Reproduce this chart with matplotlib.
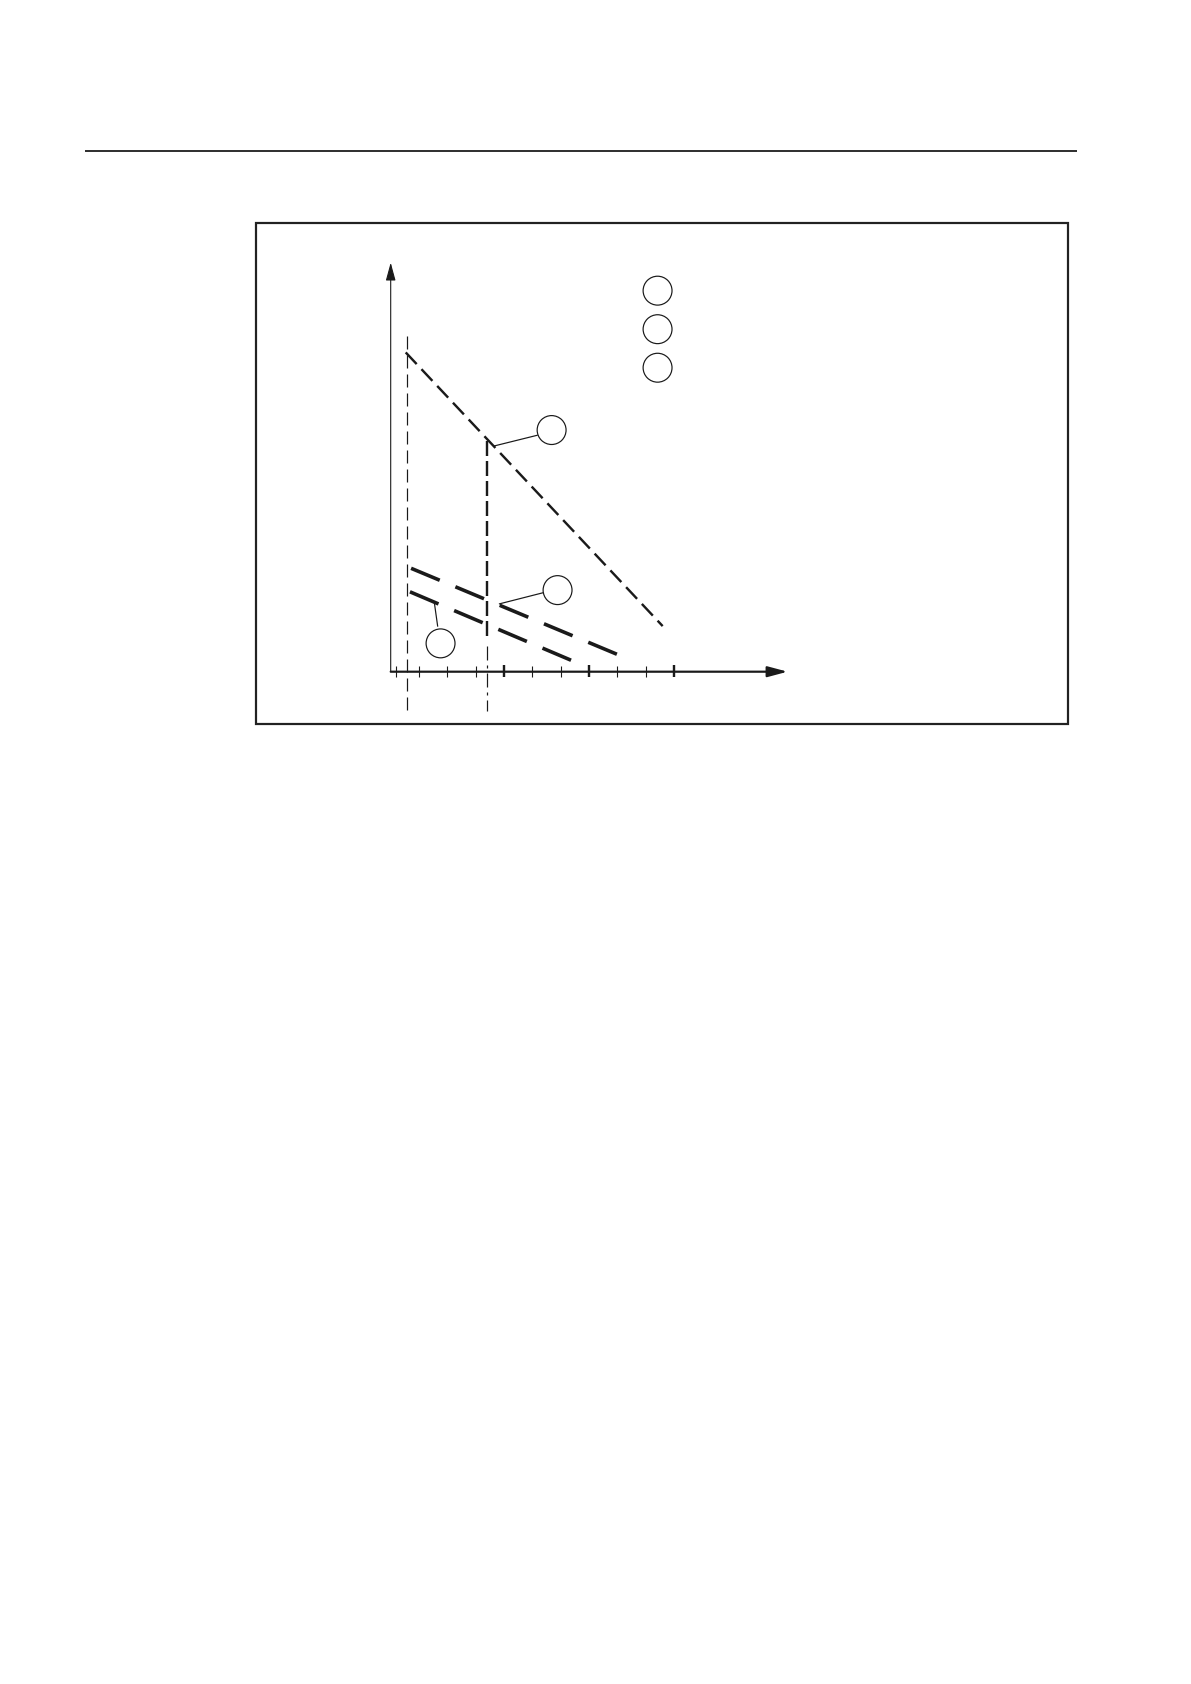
import matplotlib
matplotlib.use('Agg')
import matplotlib.pyplot as plt
from matplotlib.patches import Circle, Rectangle
from matplotlib.lines import Line2D

plt.rcParams['lines.scale_dashes'] = False
plt.rcParams['lines.solid_capstyle'] = 'butt'
plt.rcParams['lines.dash_capstyle'] = 'butt'

# chart values (axis units, origin at the corner of the two axes)
top_line_x = [0.53, 9.60]
top_line_y = [11.27, 1.61]
mid_line_x = [0.72, 8.00]
mid_line_y = [3.65, 0.61]
low_line_x = [0.68, 6.40]
low_line_y = [2.82, 0.39]

left_mark_x = 0.59
left_mark_y = [11.85, -1.39]
right_mark_x = 3.41
right_mark_top = 8.15
right_mark_split = 1.15
right_mark_bottom = -1.39

tick_pos = [0.2, 1, 2, 3, 4, 5, 6, 7, 8, 9, 10]
major_ticks = [4, 7, 10]
x_axis_end = 14.01
y_axis_end = 14.44

# callout bubbles: centre and leader line (from, to)
bubble_x = [5.68, 5.89, 1.76]
bubble_y = [8.53, 2.88, 1.00]
leader_x = [[3.62, 5.19], [3.82, 5.39], [1.54, 1.66]]
leader_y = [[7.96, 8.35], [2.39, 2.79], [2.44, 1.59]]
legend_x = 9.42
legend_y = [13.45, 12.09, 10.73]
bubble_r = 0.51

W, H = 1191, 1684
fig = plt.figure(figsize=(W / 100, H / 100), dpi=100)
ax = fig.add_axes([0, 0, 1, 1])
ax.axis('off')

# pixel layout of the chart origin and unit size
ox, oy, unit = 390.7, 671.7, 28.33
ax.set_xlim(-ox / unit, (W - ox) / unit)
ax.set_ylim((oy - H) / unit, oy / unit)

px = 0.72  # points per pixel at dpi 100
ink = '#1a1a1a'

# page rule and frame
fig.add_artist(Line2D([85 / W, 1076.7 / W], [1 - 151.3 / H, 1 - 151.3 / H],
                      transform=fig.transFigure, color='black', lw=1.6 * px))
fig.add_artist(Rectangle((255.7 / W, 1 - 724 / H), (1068.3 - 255.7) / W, (724 - 222.5) / H,
                         transform=fig.transFigure, fill=False, edgecolor='#222222', lw=2.2 * px))

# axes with arrows
ax.annotate('', xy=(0, y_axis_end), xytext=(0, 0),
            arrowprops=dict(arrowstyle='-|>,head_length=1.1,head_width=0.3', lw=1.1 * px,
                            color=ink, shrinkA=0, shrinkB=0, mutation_scale=10))
ax.annotate('', xy=(x_axis_end, 0), xytext=(0, 0),
            arrowprops=dict(arrowstyle='-|>,head_length=1.2,head_width=0.32', lw=2.2 * px,
                            color=ink, shrinkA=0, shrinkB=0, mutation_scale=10))
minor = [t for t in tick_pos if t not in major_ticks]
ax.vlines(minor, -0.19, 0.2, color=ink, lw=1.1 * px)
ax.vlines(major_ticks, -0.2, 0.22, color=ink, lw=2.4 * px)

# reference verticals
ax.plot([left_mark_x, left_mark_x], left_mark_y, color=ink, lw=1.2 * px,
        linestyle=(0, (13 * px, 6 * px)))
ax.plot([right_mark_x, right_mark_x], [right_mark_top, right_mark_split], color=ink, lw=2.4 * px,
        linestyle=(0, (15 * px, 5 * px)))
ax.plot([right_mark_x, right_mark_x], [right_mark_split - 0.25, right_mark_bottom], color=ink,
        lw=1.2 * px, linestyle=(0, (14 * px, 5 * px, 3 * px, 5 * px)))

# curves
ax.plot(top_line_x, top_line_y, color=ink, lw=2.4 * px, linestyle=(0, (16 * px, 7 * px)))
ax.plot(mid_line_x, mid_line_y, color=ink, lw=3.6 * px, linestyle=(0, (31 * px, 17 * px)))
ax.plot(low_line_x, low_line_y, color=ink, lw=3.6 * px, linestyle=(0, (31 * px, 17 * px)))

# callouts
for cx, cy, lx, ly in zip(bubble_x, bubble_y, leader_x, leader_y):
    ax.plot(lx, ly, color=ink, lw=1.2 * px)
    ax.add_patch(Circle((cx, cy), bubble_r, fill=False, edgecolor=ink, lw=1.2 * px))
for cy in legend_y:
    ax.add_patch(Circle((legend_x, cy), bubble_r, fill=False, edgecolor=ink, lw=1.2 * px))

fig.savefig('out.png', dpi=100, facecolor='white')
